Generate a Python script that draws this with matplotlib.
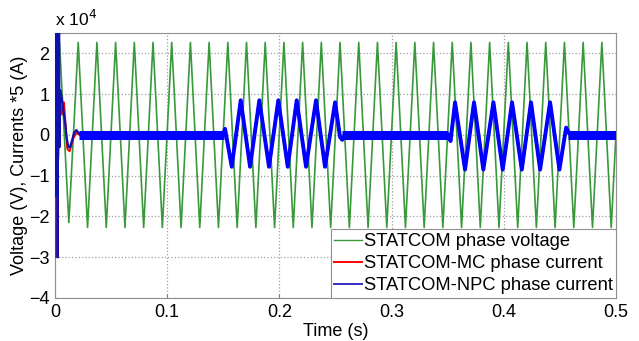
import numpy as np
import matplotlib
matplotlib.use("Agg")
import matplotlib.pyplot as plt

plt.rcParams['font.family'] = ['Liberation Sans', 'DejaVu Sans']

# values are in units of 1e4
# phase voltage: 60 Hz, extremes
v_period = 1.0 / 60
v_first_peak = 0.0040
v_peaks = [2.27] * 30
v_troughs = [-2.15] + [-2.27] * 29
v_end = (0.5, 0.05)

# NPC current (blue): start-up transient vertices
npc_trans_t = [0.0, 0.0004, 0.0008, 0.0012, 0.0016, 0.0020, 0.0024, 0.0028, 0.0032,
               0.0036, 0.0040, 0.0045, 0.0060, 0.0075, 0.0090, 0.0105, 0.0120, 0.0135,
               0.0150, 0.0170, 0.0190, 0.0210, 0.0230]
npc_trans_v = [0.0, 2.6, -1.5, 2.6, -0.5, 2.6, -3.0, 2.6, 0.0,
               2.6, -0.3, 1.1, 0.9, 0.6, 0.3, -0.1, -0.3, -0.3,
               -0.15, 0.05, 0.12, 0.05, 0.0]

# MC current (red): start-up transient vertices
mc_trans_t = [0.0, 0.0004, 0.0010, 0.0020, 0.0030, 0.0045, 0.0060, 0.0080,
              0.0095, 0.0110, 0.0130, 0.0160, 0.0190, 0.0220]
mc_trans_v = [0.0, -3.0, 2.6, -1.0, -0.5, 0.9, 0.5, 0.8,
              0.2, -0.35, -0.4, -0.1, 0.05, 0.0]

# reactive-current windows: extremes (t, value)
win1_t = [0.1500, 0.1515, 0.1575, 0.1655, 0.1738, 0.1821, 0.1907, 0.1990, 0.2074,
          0.2154, 0.2237, 0.2326, 0.2406, 0.2496, 0.2540, 0.2560, 0.2580]
win1_v = [0.0, 0.15, -0.78, 0.85, -0.78, 0.85, -0.78, 0.85, -0.78,
          0.85, -0.78, 0.85, -0.78, 0.80, -0.05, -0.12, 0.0]
win2_t = [0.3505, 0.3525, 0.3565, 0.3654, 0.3734, 0.3817, 0.3907, 0.3990, 0.4073,
          0.4160, 0.4242, 0.4323, 0.4412, 0.4495, 0.4555, 0.4580]
win2_v = [0.0, -0.15, 0.80, -0.85, 0.80, -0.85, 0.80, -0.85, 0.80,
          -0.85, 0.80, -0.85, 0.80, -0.85, 0.18, 0.05]

# steady state (ripple band around zero)
band_start = [0.021, 0.256, 0.457]
band_end = [0.1505, 0.3505, 0.5]

green = '#38993a'
blue = '#0000ff'
red = '#ff0000'

fig = plt.figure(figsize=(6.39, 3.41), dpi=100)
ax = fig.add_axes([0.0861, 0.1261, 0.878, 0.777])

# voltage vertices
n = len(v_peaks)
pk_t = v_first_peak + np.arange(n) * v_period
tr_t = pk_t + v_period / 2
vt = [0.0]
vv = [0.0]
for i in range(n):
    vt += [pk_t[i], tr_t[i]]
    vv += [v_peaks[i], v_troughs[i]]
vt.append(v_end[0])
vv.append(v_end[1])
ax.plot(vt, vv, color=green, lw=1.2, zorder=2)

# MC current (mostly hidden under NPC)
ax.plot(mc_trans_t, mc_trans_v, color=red, lw=1.4, zorder=3)
ax.plot(win1_t, win1_v, color=red, lw=2.0, zorder=3)
ax.plot(win2_t, win2_v, color=red, lw=2.0, zorder=3)

# NPC current
ax.plot(npc_trans_t, npc_trans_v, color='#1010b0', lw=1.6, zorder=4)
ax.plot(win1_t, win1_v, color=blue, lw=2.8, zorder=4)
ax.plot(win2_t, win2_v, color=blue, lw=2.8, zorder=4)
for s, e in zip(band_start, band_end):
    ax.plot([s, e], [0, 0], color=blue, lw=6.5, solid_capstyle='butt', zorder=4)

ax.set_xlim(0, 0.5)
ax.set_ylim(-4, 2.5)
ax.set_xticks([0, 0.1, 0.2, 0.3, 0.4, 0.5])
ax.set_xticklabels(['0', '0.1', '0.2', '0.3', '0.4', '0.5'])
ax.set_yticks([-4, -3, -2, -1, 0, 1, 2])
ax.tick_params(direction='in', length=3, labelsize=13, color='#808080', pad=4)
ax.grid(True, linestyle=':', color='#a0a0a0', lw=0.9)
for sp in ax.spines.values():
    sp.set_color('#909090')

ax.set_xlabel('Time (s)', fontsize=13, labelpad=2)
ax.set_ylabel('Voltage (V), Currents *5 (A)', fontsize=13, labelpad=1)
fig.text(0.0861, 0.915, r'x 10$^4$', fontsize=12.5, ha='left', va='bottom')

h1, = ax.plot([], [], color=green, lw=1.0)
h2, = ax.plot([], [], color=red, lw=1.4)
h3, = ax.plot([], [], color='#3030c0', lw=1.4)
leg = ax.legend([h1, h2, h3],
                ['STATCOM phase voltage', 'STATCOM-MC phase current', 'STATCOM-NPC phase current'],
                loc='lower right', fontsize=13.2, borderaxespad=0, fancybox=False,
                framealpha=1, edgecolor='#909090', handlelength=1.5, handletextpad=0.1,
                borderpad=0.2, labelspacing=0.28)
leg.get_frame().set_linewidth(0.8)

fig.savefig('out.png', dpi=100)
